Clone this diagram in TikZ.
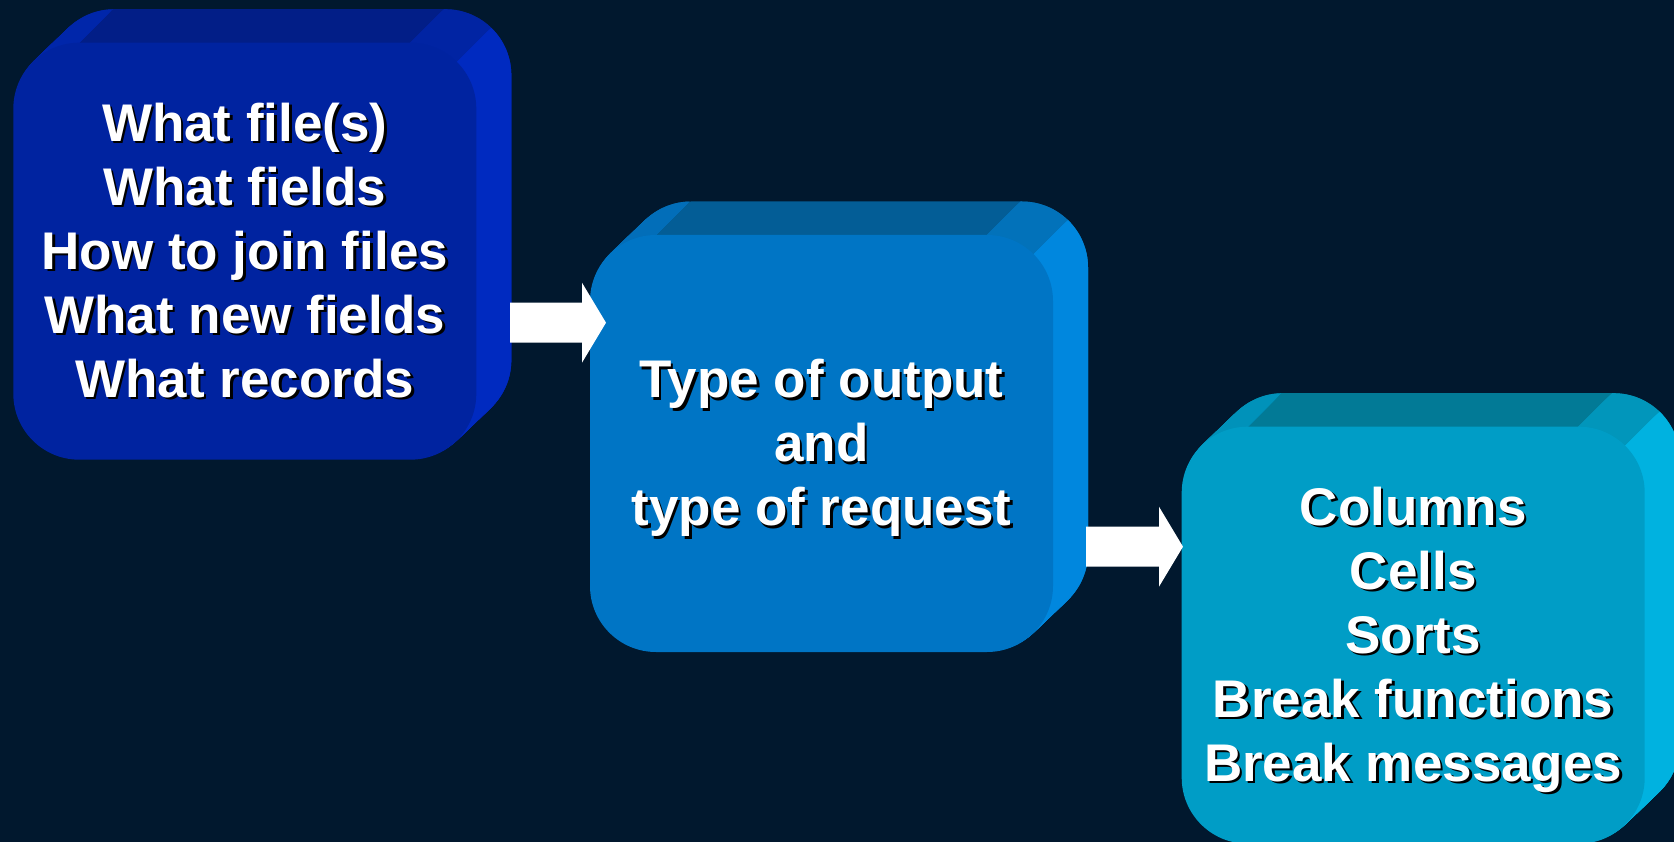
\documentclass[tikz,border=0pt]{standalone}
\usepackage{fontspec}
\setmainfont{Liberation Sans}
\usetikzlibrary{calc}

\definecolor{bg}{RGB}{1,24,46}
% box 1: deep blue
\definecolor{oneFront}{RGB}{0,35,160}
\definecolor{oneTop}{RGB}{2,30,135}
\definecolor{oneSide}{RGB}{0,42,192}
\definecolor{oneSlant}{RGB}{0,38,170}
% box 2: mid blue
\definecolor{twoFront}{RGB}{0,117,197}
\definecolor{twoTop}{RGB}{3,93,150}
\definecolor{twoSide}{RGB}{0,135,222}
\definecolor{twoSlant}{RGB}{2,110,185}
% box 3: cyan
\definecolor{threeFront}{RGB}{0,157,198}
\definecolor{threeTop}{RGB}{2,122,150}
\definecolor{threeSide}{RGB}{0,178,224}
\definecolor{threeSlant}{RGB}{0,146,186}

\tikzset{
  faceshape/.style={rounded corners=66pt},
  boxtext/.style={text=white, font=\fontsize{53}{64}\selectfont\bfseries,
    align=center, inner sep=0pt,
    execute at begin node={\rule{0pt}{40pt}},
    execute at end node={\rule[-12pt]{0pt}{12pt}}},
  boxshadow/.style={boxtext, text=black},
  arrowfill/.style={fill=white},
}

% One layer of the slab depth: the face outline shifted back by step #2
\newcommand{\slablayers}[2]{%
  \foreach \k in {30,29,...,1}{%
    \fill[#2,faceshape] ($(#1)+(\k*35/30,-\k*33.5/30)$) rectangle ++(463,417);}}

% A rounded slab: front face at (#1,#2), 463 x 417, pushed back up-right.
% #3 front, #4 top, #5 right side, #6 upper-left bevel, #7 name of face centre
\newcommand{\slabbox}[7]{%
  \coordinate (corner) at (#1,#2);
  \slablayers{corner}{#4}
  \begin{scope}
    \clip ($(corner)+(66-900,900)$) -- ($(corner)+(66+900,-900)$)
          -- ($(corner)+(66-900,-900)$) -- cycle;
    \slablayers{corner}{#6}
  \end{scope}
  \begin{scope}
    \clip ($(corner)+(397-900,900)$) -- ($(corner)+(397+900,-900)$)
          -- ($(corner)+(397+900,900)$) -- cycle;
    \slablayers{corner}{#4!50!#5}
  \end{scope}
  \begin{scope}
    \clip ($(corner)+(443.7-900,19.3+900)$) -- ($(corner)+(443.7+900,19.3-900)$)
          -- ($(corner)+(443.7+900,19.3+900)$) -- cycle;
    \slablayers{corner}{#5}
  \end{scope}
  \fill[#3,faceshape] (corner) rectangle ++(463,417);
  \coordinate (#7) at ($(corner)+(231.5,208.5)$);
}

% Wide white block arrow from #1 (tail) to #2 (tip)
\newcommand{\blockarrow}[2]{%
  \fill[arrowfill] ($(#1)+(0,-20)$) -- ($(#2)+(-24,-20)$) -- ($(#2)+(-24,-40)$)
    -- (#2) -- ($(#2)+(-24,40)$) -- ($(#2)+(-24,20)$) -- ($(#1)+(0,20)$) -- cycle;}

\begin{document}
\begin{tikzpicture}[x=1pt,y=-1pt]
  \useasboundingbox (0,0) rectangle (1674,842);
  \fill[bg] (0,0) rectangle (1674,842);

  \slabbox{13.3}{42.7}{oneFront}{oneTop}{oneSide}{oneSlant}{f1}
  \slabbox{590}{235}{twoFront}{twoTop}{twoSide}{twoSlant}{f2}
  \slabbox{1181.7}{426.7}{threeFront}{threeTop}{threeSide}{threeSlant}{f3}

  % texts with a dark drop shadow
  \node[boxshadow] (t1s) at ($(f1)+(2.5,7.5)$)
    {What file(s)\\What fields\\How to join files\\What new fields\\What records};
  \node[boxtext] (t1) at ($(f1)+(0,5)$)
    {What file(s)\\What fields\\How to join files\\What new fields\\What records};

  \node[boxshadow] (t2s) at ($(f2)+(2.5,7.5)$)
    {Type of output\\and\\type of request};
  \node[boxtext] (t2) at ($(f2)+(0,5)$)
    {Type of output\\and\\type of request};

  \node[boxshadow] (t3s) at ($(f3)+(2.5,7.5)$)
    {Columns\\Cells\\Sorts\\Break functions\\Break messages};
  \node[boxtext] (t3) at ($(f3)+(0,5)$)
    {Columns\\Cells\\Sorts\\Break functions\\Break messages};

  % connectors between the slabs
  \coordinate (a1from) at (510,322.7);
  \coordinate (a1to) at (606,322.7);
  \coordinate (a2from) at (1086,546.7);
  \coordinate (a2to) at (1183,546.7);
  \blockarrow{a1from}{a1to}
  \blockarrow{a2from}{a2to}
\end{tikzpicture}
\end{document}
